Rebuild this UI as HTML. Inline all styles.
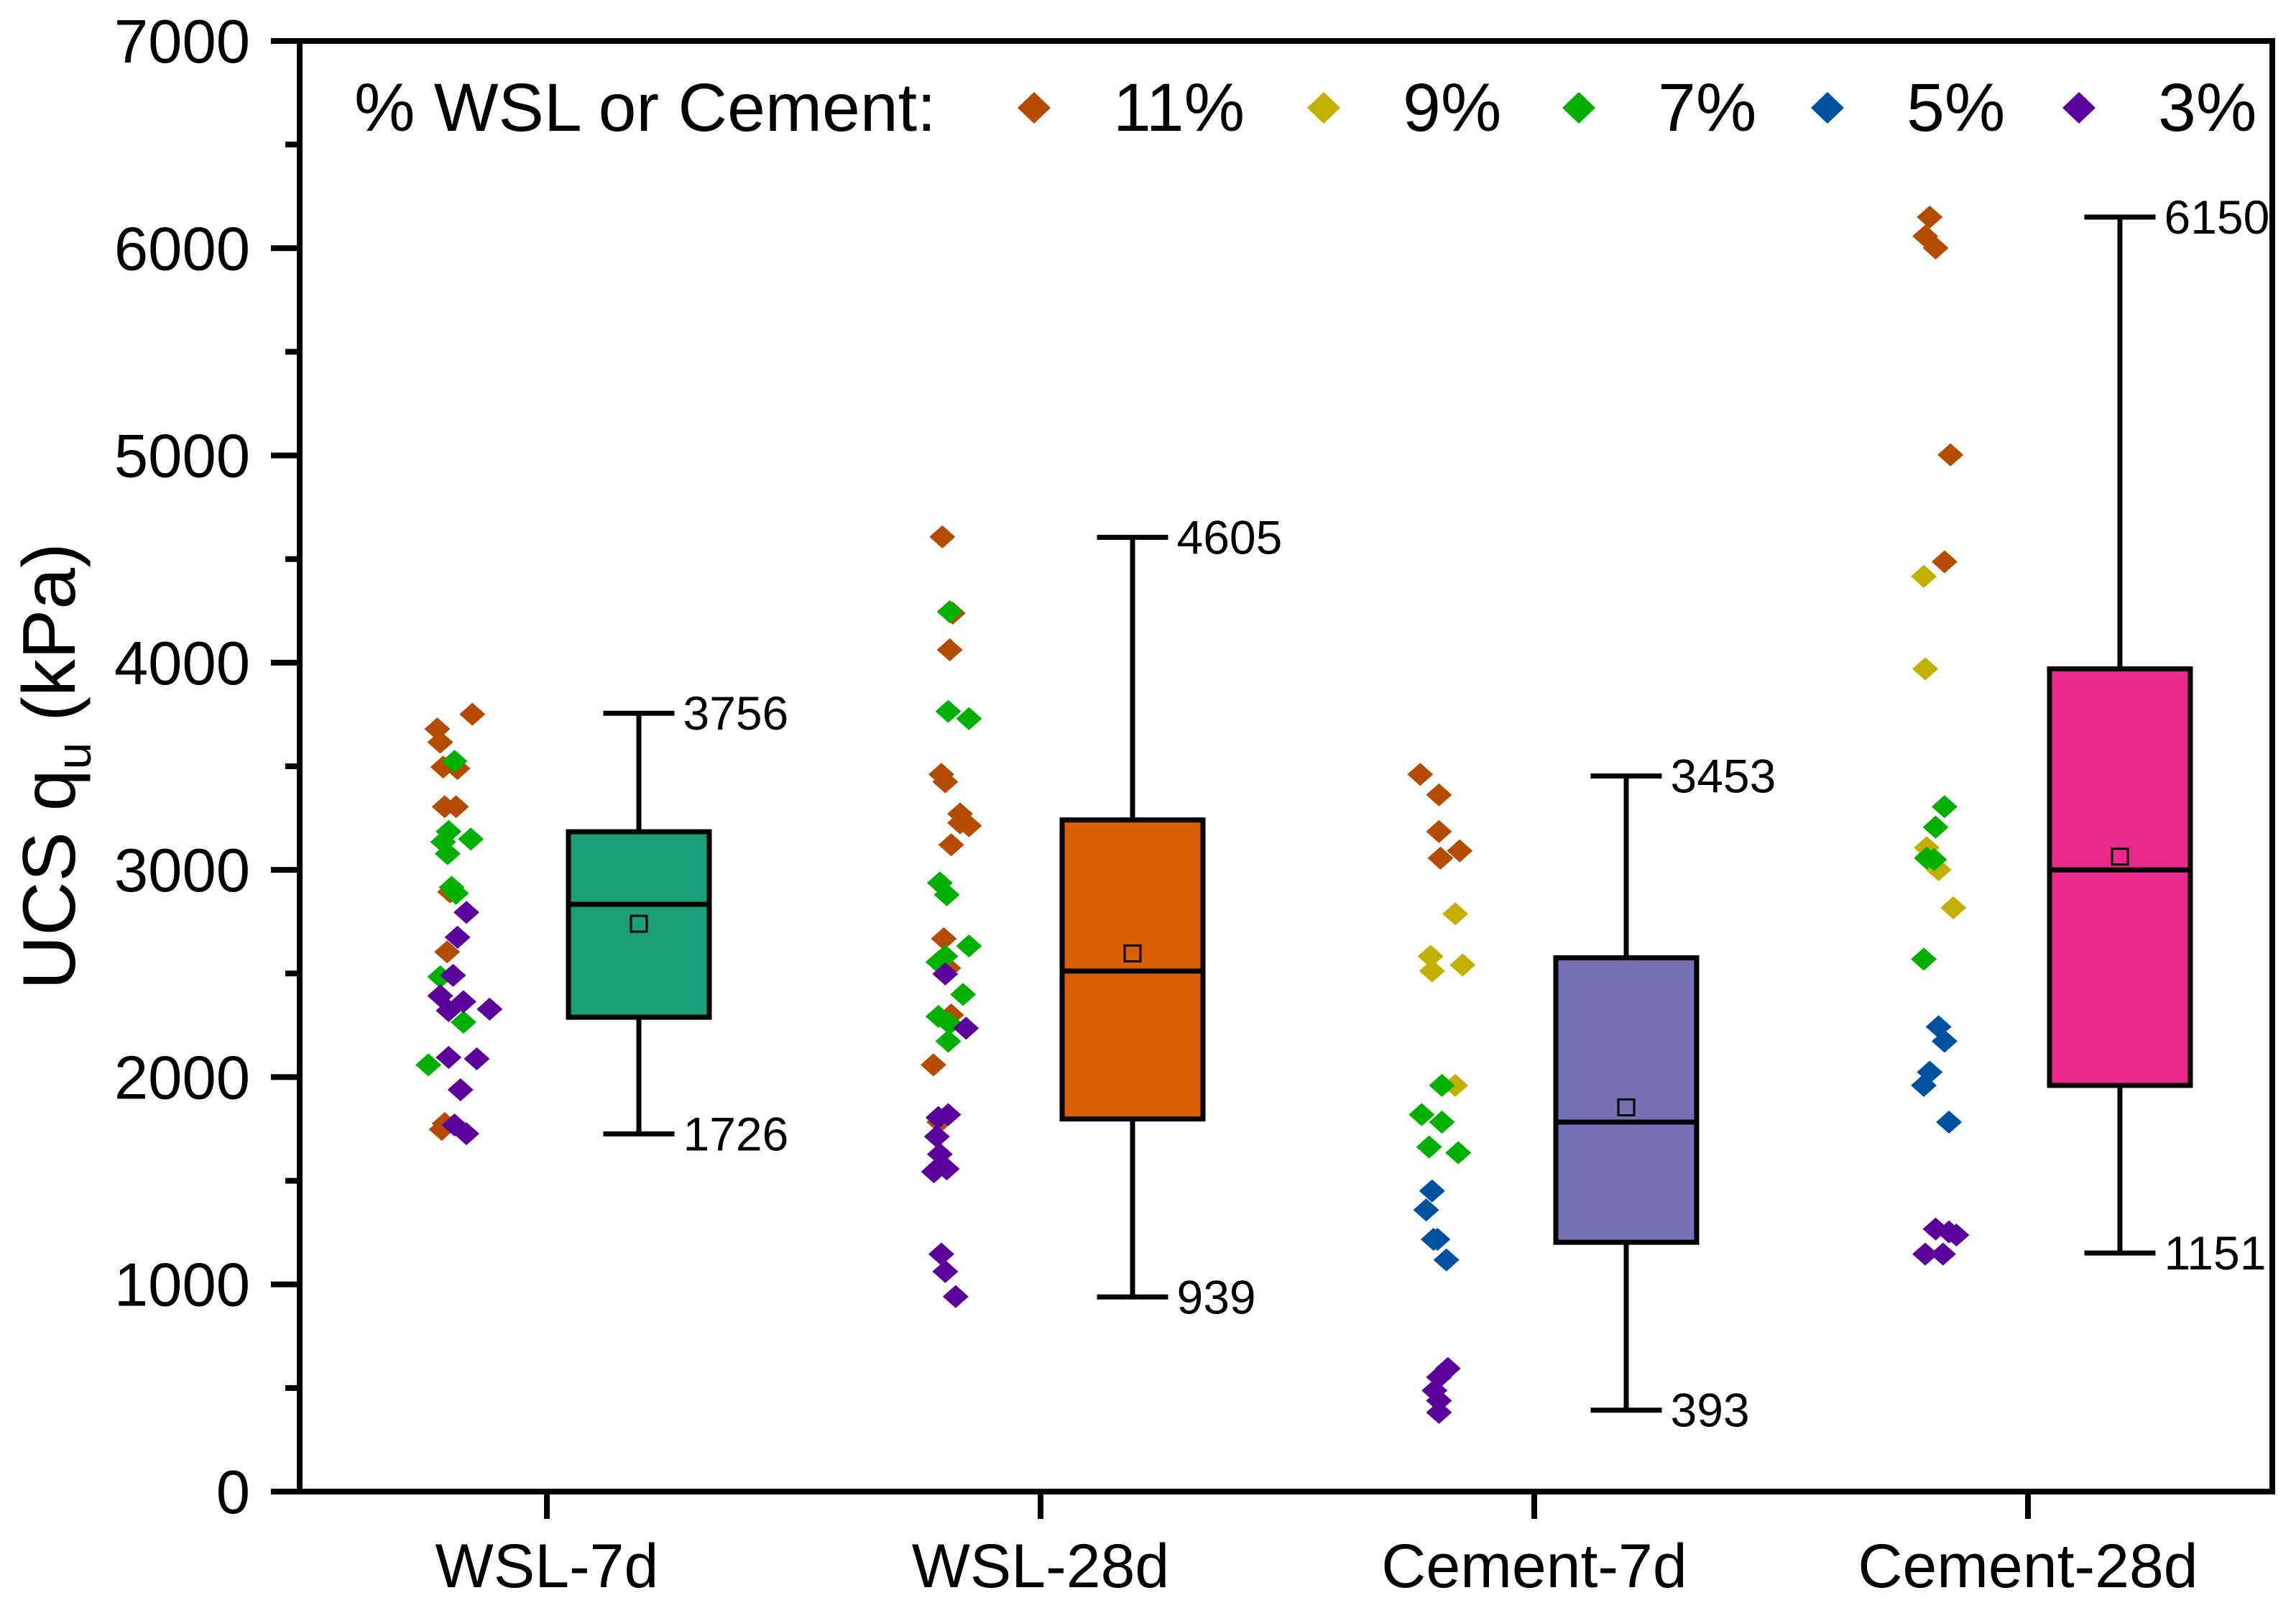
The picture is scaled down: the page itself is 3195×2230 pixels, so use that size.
<!DOCTYPE html>
<html><head><meta charset="utf-8"><style>
html,body{margin:0;padding:0;background:#fff;}
svg{display:block;font-family:"Liberation Sans",Arial,sans-serif;}
</style></head><body>
<svg id="chart" width="3195" height="2230" viewBox="0 0 3195 2230" xmlns="http://www.w3.org/2000/svg">
<g id="plot"></g>
</svg>
<script>
// ---- data ----
const categories = ["WSL-7d","WSL-28d","Cement-7d","Cement-28d"];
const boxQ1 = [2289,1798,1203,1960];
const boxMedian = [2834,2512,1783,3000];
const boxQ3 = [3184,3241,2576,3970];
const boxMean = [2740,2597,1854,3064];
const whiskerMin = [1726,939,393,1151];
const whiskerMax = [3756,4605,3453,6150];
const boxColors = ["#1b9e77","#d95f02","#7570b3","#e7298a"];
const yTicks = [0,1000,2000,3000,4000,5000,6000,7000];
const groups = ["11%","9%","7%","5%","3%"];
const groupColors = ["#b54b00","#c1b000","#00b000","#0050a0","#5c009c"];
// scatter: category index, group index, value (kPa), jitter (category units)
const ptCat = [
0,0,0,0,0,0,0,0,0,0,0, 0,0,0,0,0,0,0,0,0,0, 0,0,0,0,0,0,0,0,0,0,0,0,
1,1,1,1,1,1,1,1,1,1,1,1,1,1, 1,1,1,1,1,1,1,1,1,1,1,1, 1,1,1,1,1,1,1,1,1,1,1,1,
2,2,2,2,2, 2,2,2,2,2, 2,2,2,2,2, 2,2,2,2,2, 2,2,2,2,2,
3,3,3,3,3, 3,3,3,3,3, 3,3,3,3,3, 3,3,3,3,3, 3,3,3,3,3];
const ptGroup = [
0,0,0,0,0,0,0,0,0,0,0, 2,2,2,2,2,2,2,2,2,2, 4,4,4,4,4,4,4,4,4,4,4,4,
0,0,0,0,0,0,0,0,0,0,0,0,0,0, 2,2,2,2,2,2,2,2,2,2,2,2, 4,4,4,4,4,4,4,4,4,4,4,4,
0,0,0,0,0, 1,1,1,1,1, 2,2,2,2,2, 3,3,3,3,3, 4,4,4,4,4,
0,0,0,0,0, 1,1,1,1,1, 2,2,2,2,2, 3,3,3,3,3, 4,4,4,4,4];
const ptValue = [
3680,3616,3751,3496,3489,3305,3305,2894,2604,1776,1748,
3524,3185,3135,3149,3078,2916,2887,2484,2265,2059,
2795,2675,2491,2392,2364,2321,2328,2095,2088,1939,1769,1727,
4607,4239,4062,3461,3425,3270,3227,3121,3213,2668,2526,2300,2059,1783,
4246,3765,3730,2937,2880,2583,2555,2633,2399,2293,2258,2173,
2498,2236,1805,1819,1713,1628,1557,1557,1543,1146,1062,941,
3461,3362,3185,3057,3092,
2788,2583,2512,2541,1960,
1960,1819,1783,1663,1635,
1451,1359,1217,1217,1118,
594,552,488,439,382,
6150,6058,6001,5003,4487,
4416,3970,3107,3001,2817,
3305,3206,3057,3050,2569,
2243,2173,2024,1960,1783,
1267,1253,1238,1146,1146];
const ptJitter = [
-.222,-.216,-.151,-.210,-.181,-.207,-.184,-.196,-.202,-.207,-.213,
-.187,-.199,-.210,-.154,-.201,-.193,-.184,-.216,-.169,-.240,
-.163,-.181,-.190,-.216,-.169,-.199,-.116,-.199,-.142,-.175,-.187,-.163,
-.199,-.178,-.184,-.201,-.193,-.163,-.163,-.181,-.145,-.196,-.187,-.181,-.217,-.205,
-.184,-.187,-.145,-.204,-.190,-.193,-.207,-.145,-.157,-.207,-.184,-.187,
-.193,-.151,-.207,-.187,-.210,-.204,-.210,-.190,-.216,-.201,-.193,-.172,
-.231,-.193,-.193,-.190,-.151,
-.160,-.210,-.207,-.145,-.160,
-.187,-.228,-.187,-.213,-.154,
-.207,-.219,-.204,-.196,-.178,
-.175,-.193,-.202,-.193,-.193,
-.199,-.208,-.187,-.157,-.169,
-.211,-.208,-.205,-.181,-.151,
-.169,-.187,-.205,-.190,-.211,
-.181,-.169,-.199,-.211,-.160,
-.187,-.160,-.145,-.208,-.172];

// ---- layout ----
const NS="http://www.w3.org/2000/svg";
const g=document.getElementById('plot');
const L=417,R=3162,T=57,B=2075;
const yMin=0,yMax=7000;
function y(v){return B-(v-yMin)/(yMax-yMin)*(B-T);}
const cat0=761,catStep=687;
function xc(i){return cat0+i*catStep;}
const boxOff=128,boxW=196,capW=99;
function el(tag,attrs,parent){const e=document.createElementNS(NS,tag);for(const k in attrs)e.setAttribute(k,attrs[k]);(parent||g).appendChild(e);return e;}

// scatter points
for(let i=0;i<ptValue.length;i++){
  const cx=xc(ptCat[i])+ptJitter[i]*catStep, cy=y(ptValue[i]);
  const p=el('polygon',{points:`${cx},${cy-16} ${cx+18},${cy} ${cx},${cy+16} ${cx-18},${cy}`,fill:groupColors[ptGroup[i]]});
  
  
}

// boxes
for(let i=0;i<categories.length;i++){
  const cx=xc(i)+boxOff;
  const wg=el('g',{});
  
  
  el('line',{x1:cx,x2:cx,y1:y(whiskerMax[i]),y2:y(boxQ3[i]),stroke:'#000','stroke-width':7},wg);
  el('line',{x1:cx,x2:cx,y1:y(boxQ1[i]),y2:y(whiskerMin[i]),stroke:'#000','stroke-width':7},wg);
  el('line',{x1:cx-capW/2,x2:cx+capW/2,y1:y(whiskerMax[i]),y2:y(whiskerMax[i]),stroke:'#000','stroke-width':7},wg);
  el('line',{x1:cx-capW/2,x2:cx+capW/2,y1:y(whiskerMin[i]),y2:y(whiskerMin[i]),stroke:'#000','stroke-width':7},wg);
  el('rect',{x:cx-boxW/2,y:y(boxQ3[i]),width:boxW,height:y(boxQ1[i])-y(boxQ3[i]),fill:boxColors[i],stroke:'#000','stroke-width':7},wg);
  el('line',{x1:cx-boxW/2,x2:cx+boxW/2,y1:y(boxMedian[i]),y2:y(boxMedian[i]),stroke:'#000','stroke-width':7},wg);
  el('rect',{x:cx-11,y:y(boxMean[i])-11,width:22,height:22,fill:'none',stroke:'#000','stroke-width':3},wg);
  const t1=el('text',{x:cx+capW/2+12,y:y(whiskerMax[i])+23,'font-size':66},wg);t1.textContent=whiskerMax[i];
  
  
  const t2=el('text',{x:cx+capW/2+12,y:y(whiskerMin[i])+23,'font-size':66},wg);t2.textContent=whiskerMin[i];
  
  
}

// axes frame
const fr=el('rect',{x:L,y:T,width:R-L,height:B-T,fill:'none',stroke:'#000','stroke-width':8});


// y ticks
for(let k=0;k<yTicks.length;k++){
  const v=yTicks[k];
  el('line',{x1:L-40,x2:L,y1:y(v),y2:y(v),stroke:'#000','stroke-width':8});
  if(k<yTicks.length-1){const mv=v+500;el('line',{x1:L-20,x2:L,y1:y(mv),y2:y(mv),stroke:'#000','stroke-width':8});}
  const t=el('text',{x:348,y:y(v)+30,'font-size':85,'text-anchor':'end'});t.textContent=v;
  
  
}
// x ticks
for(let i=0;i<categories.length;i++){
  el('line',{x1:xc(i),x2:xc(i),y1:B,y2:B+38,stroke:'#000','stroke-width':8});
  const t=el('text',{x:xc(i),y:2208,'font-size':86,'text-anchor':'middle'});t.textContent=categories[i];
  
  
}
// y title
const yt=el('text',{x:0,y:0,'font-size':104,'text-anchor':'middle',transform:'translate(104,1066) rotate(-90)'});
yt.innerHTML='UCS q<tspan font-size="68" dy="22">u</tspan><tspan dy="-22"> (kPa)</tspan>';



// legend
const lg=el('g',{});


const lt=el('text',{x:493,y:182,'font-size':95},lg);lt.textContent='% WSL or Cement:';
const legX=[1439,1842,2197,2543,2893];
for(let k=0;k<groups.length;k++){
  const cx=legX[k],cy=150;
  el('polygon',{points:`${cx},${cy-22} ${cx+23},${cy} ${cx},${cy+22} ${cx-23},${cy}`,fill:groupColors[k]},lg);
  const t=el('text',{x:cx+110,y:182,'font-size':95},lg);t.textContent=groups[k];
  
  
}
</script>
</body></html>
